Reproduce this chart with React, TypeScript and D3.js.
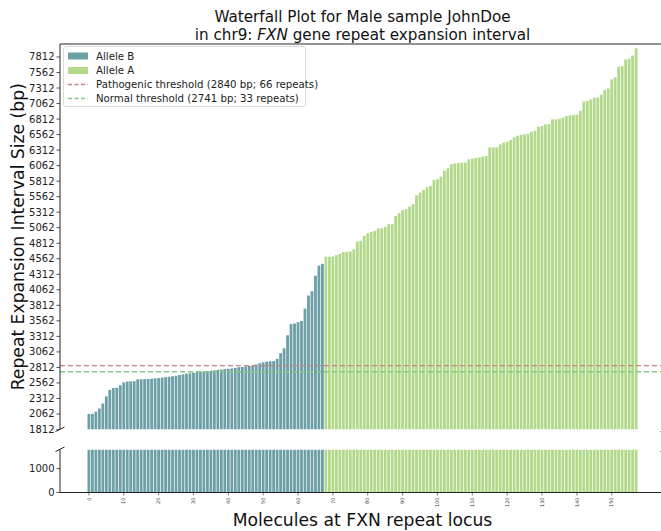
import React from 'react';
import * as d3 from 'd3';

const alleleB: number[] = [
  2062, 2065, 2100, 2150, 2230, 2345, 2450, 2480, 2485, 2525,
  2570, 2585, 2588, 2590, 2620, 2622, 2624, 2626, 2630, 2635,
  2640, 2648, 2655, 2662, 2670, 2678, 2690, 2700, 2710, 2718,
  2728, 2735, 2742, 2748, 2752, 2758, 2765, 2772, 2778, 2785,
  2790, 2795, 2805, 2815, 2820, 2828, 2835, 2845, 2860, 2880,
  2895, 2905, 2910, 2915, 2950, 3040, 3120, 3330, 3510, 3520,
  3540, 3560, 3760, 3970, 4040, 4290, 4450, 4480,
];

const alleleA: number[] = [
  4593, 4595, 4599, 4620, 4642, 4668, 4674, 4679, 4716, 4840,
  4851, 4931, 4974, 4995, 5011, 5049, 5054, 5076, 5119, 5119,
  5253, 5296, 5349, 5360, 5402, 5440, 5584, 5627, 5671, 5713,
  5735, 5831, 5842, 5885, 5981, 6019, 6083, 6099, 6105, 6110,
  6110, 6164, 6174, 6185, 6196, 6206, 6217, 6357, 6357, 6357,
  6405, 6431, 6447, 6474, 6517, 6544, 6560, 6565, 6576, 6608,
  6624, 6689, 6699, 6726, 6732, 6807, 6807, 6817, 6833, 6860,
  6871, 6876, 6882, 6946, 7096, 7101, 7128, 7155, 7160, 7203,
  7278, 7305, 7450, 7482, 7653, 7664, 7771, 7787, 7836, 7953,
];

const xTickValues: number[] = d3.range(0, 151, 10);
const yTicksTop: number[] = d3.range(1812, 7813, 250);
const yTicksBottom: number[] = [0, 1000];

const thresholdValues: number[] = [2840, 2741];
const thresholdLabels: string[] = [
  'Pathogenic threshold (2840 bp; 66 repeats)',
  'Normal threshold (2741 bp; 33 repeats)',
];
const seriesLabels: string[] = ['Allele B', 'Allele A'];

const COLOR_B = '#6d9fa7';
const COLOR_A = '#b2d98a';
const THR_COLORS = ['#c88585', '#86c986'];
const FONT = 'DejaVu Sans, sans-serif';

export default function App() {
  const W = 661, H = 531;
  const left = 60, right = 665;
  const topT = 44, botT = 429.5;
  const topB = 449.5, botB = 492.5;

  const bars = [
    ...alleleB.map((v, i) => ({ i, v, c: COLOR_B })),
    ...alleleA.map((v, j) => ({ i: alleleB.length + j, v, c: COLOR_A })),
  ];
  const n = bars.length;
  const pad = 0.05 * (n - 1 + 0.8);
  const x = d3.scaleLinear().domain([-0.4 - pad, n - 1 + 0.4 + pad]).range([left, right]);
  const bw = x(0.8) - x(0);
  const yT = d3.scaleLinear().domain([1812, 8021]).range([botT, topT]);
  const yB = d3.scaleLinear().domain([0, 1800]).range([botB, topB]);

  const axisColor = '#262626';

  return (
    <svg width={W} height={H} style={{ position: 'absolute', left: 0, top: 0, background: '#fff' }} fontFamily={FONT}>
      <defs>
        <clipPath id="clipTop"><rect x={left} y={topT} width={right - left} height={botT - topT} /></clipPath>
        <clipPath id="clipBot"><rect x={left} y={topB} width={right - left} height={botB - topB} /></clipPath>
      </defs>

      {/* Title */}
      <text x={(left + right) / 2} y={22} textAnchor="middle" fontSize={15.2} fill="#111">Waterfall Plot for Male sample JohnDoe</text>
      <text x={(left + right) / 2} y={40} textAnchor="middle" fontSize={15.2} fill="#111">
        in chr9: <tspan fontStyle="italic">FXN</tspan> gene repeat expansion interval
      </text>

      {/* Top panel bars */}
      <g clipPath="url(#clipTop)">
        {bars.map((b) => (
          <rect key={'t' + b.i} x={x(b.i) - bw / 2} width={bw} y={yT(b.v)} height={Math.max(0, yT(1812) - yT(b.v))} fill={b.c} />
        ))}
        {thresholdValues.map((t, k) => (
          <line key={'th' + k} x1={left} x2={right} y1={yT(t)} y2={yT(t)} stroke={THR_COLORS[k]} strokeWidth={1.4} strokeDasharray="5,3" />
        ))}
      </g>

      {/* Bottom panel bars */}
      <g clipPath="url(#clipBot)">
        {bars.map((b) => (
          <rect key={'b' + b.i} x={x(b.i) - bw / 2} width={bw} y={yB(Math.min(b.v, 1800))} height={yB(0) - yB(Math.min(b.v, 1800))} fill={b.c} />
        ))}
      </g>

      {/* Spines top panel */}
      <line x1={left} x2={left} y1={topT} y2={botT} stroke={axisColor} strokeWidth={1} />
      <line x1={right} x2={right} y1={topT} y2={botT} stroke={axisColor} strokeWidth={1} />
      <line x1={left} x2={right} y1={topT} y2={topT} stroke={axisColor} strokeWidth={1} />
      {/* Spines bottom panel */}
      <line x1={left} x2={left} y1={topB} y2={botB} stroke={axisColor} strokeWidth={1} />
      <line x1={right} x2={right} y1={topB} y2={botB} stroke={axisColor} strokeWidth={1} />
      <line x1={left} x2={right} y1={botB} y2={botB} stroke={axisColor} strokeWidth={1} />

      {/* Break marks */}
      {[left, right].map((cx) => (
        <g key={'brk' + cx}>
          <line x1={cx - 4.5} y1={botT + 2} x2={cx + 4.5} y2={botT - 2.5} stroke={axisColor} strokeWidth={1} />
          <line x1={cx - 4.5} y1={topB + 2} x2={cx + 4.5} y2={topB - 2.5} stroke={axisColor} strokeWidth={1} />
        </g>
      ))}

      {/* Y ticks top */}
      {yTicksTop.map((t) => (
        <g key={'yt' + t} transform={`translate(${left},${yT(t)})`}>
          <line x1={-3.5} x2={0} stroke={axisColor} strokeWidth={0.8} />
          <text x={-5.5} dy="0.35em" textAnchor="end" fontSize={10} fill="#222">{t}</text>
        </g>
      ))}
      {/* Y ticks bottom */}
      {yTicksBottom.map((t) => (
        <g key={'yb' + t} transform={`translate(${left},${yB(t)})`}>
          <line x1={-3.5} x2={0} stroke={axisColor} strokeWidth={0.8} />
          <text x={-5.5} dy="0.35em" textAnchor="end" fontSize={10} fill="#222">{t}</text>
        </g>
      ))}

      {/* X ticks */}
      {xTickValues.map((t) => (
        <g key={'xt' + t} transform={`translate(${x(t)},${botB})`}>
          <line y1={0} y2={3} stroke={axisColor} strokeWidth={0.6} />
          <text transform="translate(0,5) rotate(-90)" textAnchor="end" dy="0.35em" fontSize={5} fill="#333">{t}</text>
        </g>
      ))}

      {/* Axis labels */}
      <text x={(left + right) / 2} y={526} textAnchor="middle" fontSize={17.2} fill="#111">Molecules at FXN repeat locus</text>
      <text transform={`translate(24,${(topT + botT) / 2}) rotate(-90)`} textAnchor="middle" fontSize={17.2} fill="#111">Repeat Expansion Interval Size (bp)</text>

      {/* Legend */}
      <g>
        <rect x={63.5} y={46.5} width={242} height={60} rx={2.5} fill="#fff" fillOpacity={0.85} stroke="#d0d0d0" strokeWidth={0.8} />
        {[COLOR_B, COLOR_A].map((c, k) => (
          <g key={'lg' + k}>
            <rect x={68} y={(k === 0 ? 56 : 70.5) - 3.5} width={20} height={7} fill={c} />
            <text x={96} y={k === 0 ? 56 : 70.5} dy="0.35em" fontSize={10.2} fill="#222">{seriesLabels[k]}</text>
          </g>
        ))}
        {thresholdLabels.map((l, k) => (
          <g key={'lt' + k}>
            <line x1={68} x2={88} y1={k === 0 ? 84.5 : 98.5} y2={k === 0 ? 84.5 : 98.5} stroke={THR_COLORS[k]} strokeWidth={1.4} strokeDasharray="4,2.5" />
            <text x={96} y={k === 0 ? 84.5 : 98.5} dy="0.35em" fontSize={10.2} fill="#222">{l}</text>
          </g>
        ))}
      </g>
    </svg>
  );
}
